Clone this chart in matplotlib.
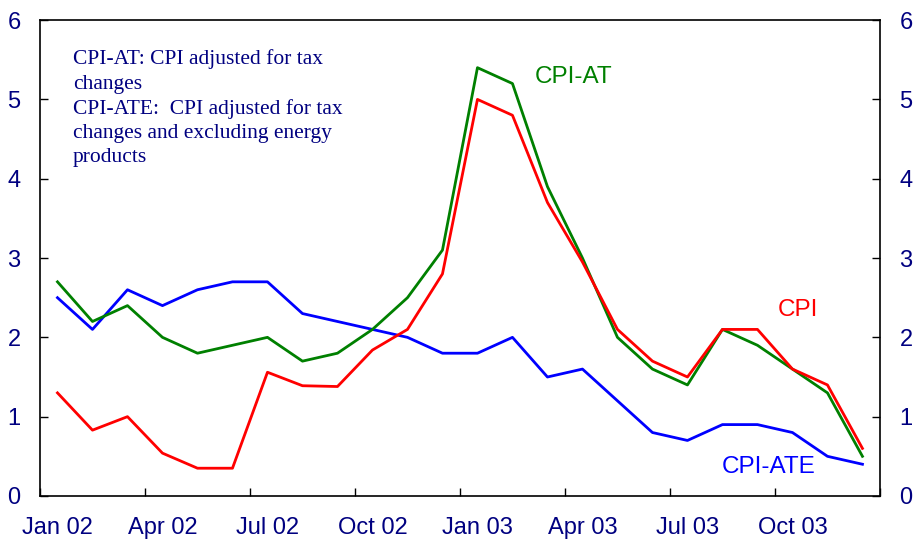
import numpy as np
import matplotlib.pyplot as plt
from matplotlib.ticker import FixedLocator, NullFormatter

months = ['Jan 02', 'Feb 02', 'Mar 02', 'Apr 02', 'May 02', 'Jun 02',
          'Jul 02', 'Aug 02', 'Sep 02', 'Oct 02', 'Nov 02', 'Dec 02',
          'Jan 03', 'Feb 03', 'Mar 03', 'Apr 03', 'May 03', 'Jun 03',
          'Jul 03', 'Aug 03', 'Sep 03', 'Oct 03', 'Nov 03', 'Dec 03']
cpi = [1.3, 0.83, 1.0, 0.54, 0.35, 0.35, 1.56, 1.39, 1.38, 1.84, 2.1, 2.8,
       5.0, 4.8, 3.7, 2.95, 2.1, 1.7, 1.5, 2.1, 2.1, 1.6, 1.4, 0.6]
cpi_at = [2.7, 2.2, 2.4, 2.0, 1.8, 1.9, 2.0, 1.7, 1.8, 2.1, 2.5, 3.1,
          5.4, 5.2, 3.9, 3.0, 2.0, 1.6, 1.4, 2.1, 1.9, 1.6, 1.3, 0.5]
cpi_ate = [2.5, 2.1, 2.6, 2.4, 2.6, 2.7, 2.7, 2.3, 2.2, 2.1, 2.0, 1.8,
           1.8, 2.0, 1.5, 1.6, 1.2, 0.8, 0.7, 0.9, 0.9, 0.8, 0.5, 0.4]

navy = '#000080'
plt.rcParams['font.family'] = ['Liberation Sans', 'DejaVu Sans']

fig = plt.figure(figsize=(9.17, 5.43), dpi=100)
ax = fig.add_axes([0.0436, 0.0866, 0.916, 0.8764])

x = np.arange(len(months))
ax.plot(x, cpi_ate, color='#0000ff', lw=2)
ax.plot(x, cpi_at, color='#008000', lw=2)
ax.plot(x, cpi, color='#ff0000', lw=2)

ax.set_xlim(-0.5, len(months) - 0.5)
ax.set_ylim(0, 6)

# quarter boundaries get tick marks, month centres get the labels
ax.xaxis.set_major_locator(FixedLocator(np.arange(-0.5, len(months), 3)))
ax.xaxis.set_major_formatter(NullFormatter())
ax.xaxis.set_minor_locator(FixedLocator(x[::3]))
ax.set_xticklabels(months[::3], minor=True)
ax.tick_params(axis='x', which='major', direction='in', length=6, width=1)
ax.tick_params(axis='x', which='minor', length=0, pad=15,
               labelsize=17, labelcolor=navy)

ax.set_yticks(range(7))
ax.tick_params(axis='y', direction='in', length=6, width=1, right=True,
               labelright=True, labelsize=17, labelcolor=navy, pad=14)

for s in ax.spines.values():
    s.set_linewidth(1.2)

ax.text(0.44, 5.63, 'CPI-AT: CPI adjusted for tax\nchanges\n'
        'CPI-ATE:  CPI adjusted for tax\nchanges and excluding energy\nproducts',
        family='Liberation Serif', fontsize=15.5, color=navy, va='top',
        linespacing=1.37)
ax.text(13.64, 5.28, 'CPI-AT', color='#008000', fontsize=17.5, va='center')
ax.text(20.59, 2.34, 'CPI', color='#ff0000', fontsize=17.5, va='center')
ax.text(18.99, 0.36, 'CPI-ATE', color='#0000ff', fontsize=17.5, va='center')

fig.savefig('out.png', dpi=100)
